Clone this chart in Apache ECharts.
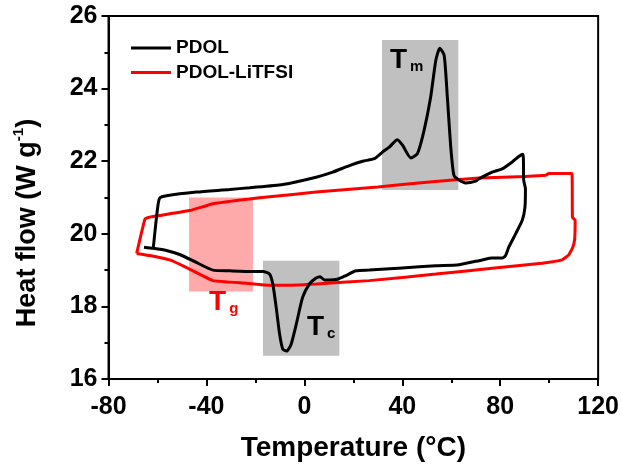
<!DOCTYPE html>
<html>
<head>
<meta charset="utf-8">
<script src="https://cdn.jsdelivr.net/npm/echarts@6/dist/echarts.min.js"></script>
<style>
html,body{margin:0;padding:0;background:#fff;}
#chart{width:622px;height:472px;}
</style>
</head>
<body>
<div id="chart"></div>
<script>
// PDOL: heating (upper) then cooling (lower) trace, in drawing order
var pdolTemp = [-61.7,-60.7,-59.7,-59.0,-56.3,-44.1,-30.5,-22.4,-8.8,4.8,11.6,18.4,23.8,28.6,31.9,34.7,38.0,40.1,43.5,46.2,48.9,51.6,53.7,55.3,57.1,58.4,59.8,61.1,63.2,65.9,70.0,71.4,76.7,80.8,84.9,87.6,89.3,89.6,90.3,90.1,89.0,86.3,83.5,82.2,80.8,76.7,72.7,63.2,53.7,40.0,26.5,21.1,17.0,13.6,10.2,8.2,6.4,4.8,2.1,-0.7,-3.3,-5.4,-7.2,-8.8,-10.1,-11.5,-12.9,-14.2,-16.9,-21.0,-30.5,-37.3,-44.1,-50.9,-56.3,-61.7,-65.5];
var pdolHeat = [19.61,20.27,20.83,20.99,21.05,21.15,21.22,21.27,21.36,21.56,21.70,21.88,22.00,22.07,22.25,22.39,22.59,22.44,22.09,22.21,22.85,23.77,24.78,25.11,24.92,23.77,22.39,21.61,21.48,21.40,21.45,21.52,21.70,21.79,21.98,22.13,22.19,21.47,21.24,20.73,20.37,20.00,19.63,19.40,19.33,19.33,19.28,19.15,19.12,19.06,19.00,18.98,18.85,18.75,18.73,18.73,18.82,18.78,18.62,18.25,17.51,16.96,16.77,16.82,17.23,17.97,18.62,18.89,18.96,18.96,18.98,19.00,19.21,19.43,19.54,19.60,19.63];
// PDOL-LiTFSI
var liTemp = [-68.5,-65.1,-63.1,-55.0,-46.8,-37.3,-27.8,-22.4,-14.2,4.8,30.0,50.0,71.4,90.3,98.5,99.8,109.3,109.5,110.6,110.4,109.6,108.0,105.3,97.1,76.7,53.7,26.5,4.8,-8.8,-14.2,-23.7,-37.3,-48.1,-55.0,-63.1,-68.5];
var liHeat = [19.46,20.41,20.46,20.55,20.64,20.83,20.92,20.96,21.02,21.15,21.29,21.42,21.54,21.58,21.61,21.66,21.66,20.45,20.38,19.85,19.62,19.42,19.28,19.19,19.05,18.89,18.71,18.62,18.58,18.58,18.64,18.71,19.07,19.28,19.40,19.46];
// shaded transition regions [xStart, yTop, xEnd, yBottom]
var tmBox = [31.7, 25.34, 62.9, 21.21];
var tcBox = [-16.9, 19.26, 14.3, 16.64];
var tgBox = [-47.1, 21.0, -21.0, 18.41];
var seriesNames = ['PDOL', 'PDOL-LiTFSI'];

function pairs(xs, ys){ return xs.map(function(x,i){ return [x, ys[i]]; }); }

var FONT = 'Liberation Sans, Arial, sans-serif';
function subRich(color){
  return {
    t:{fontSize:28, fontWeight:'bold', fontFamily:FONT, color:color, lineHeight:28, verticalAlign:'top'},
    s:{fontSize:15, fontWeight:'bold', fontFamily:FONT, color:color, lineHeight:15, verticalAlign:'bottom', padding:[22,0,0,3]}
  };
}
function box(b, fill, label){
  return [{coord:[b[0], b[1]], itemStyle:{color:fill}, label:label}, {coord:[b[2], b[3]]}];
}

var chart = echarts.init(document.getElementById('chart'), null, {renderer:'canvas'});
var axisCommon = {
  type:'value',
  axisLine:{show:true, onZero:false, lineStyle:{color:'#000', width:2}},
  axisTick:{show:true, inside:false, length:7, lineStyle:{color:'#000', width:2}},
  minorTick:{show:true, splitNumber:2, length:4, lineStyle:{color:'#000', width:2}},
  splitLine:{show:false},
  axisLabel:{fontSize:25, fontWeight:'bold', color:'#000', fontFamily:FONT}
};
var option = {
  animation:false,
  backgroundColor:'#fff',
  grid:{left:108.5, right:23, top:16, bottom:93, show:true, borderColor:'#000', borderWidth:2, backgroundColor:'transparent'},
  legend:{
    data:seriesNames, orient:'vertical', left:131, top:38, padding:0,
    icon:'rect', itemWidth:40, itemHeight:3, itemGap:4.4,
    textStyle:{fontSize:19, fontWeight:'bold', color:'#000', fontFamily:FONT, lineHeight:20}
  },
  xAxis: Object.assign({}, axisCommon, {
    min:-80, max:120, interval:40,
    axisLabel: Object.assign({}, axisCommon.axisLabel, {margin:16}),
    name:'Temperature (°C)', nameLocation:'middle', nameGap:55,
    nameTextStyle:{fontSize:28, fontWeight:'bold', color:'#000', fontFamily:FONT}
  }),
  yAxis: Object.assign({}, axisCommon, {
    min:16, max:26, interval:2,
    axisLabel: Object.assign({}, axisCommon.axisLabel, {margin:11})
  }),
  graphic:[{
    type:'text', x:26, y:223, rotation:Math.PI/2,
    style:{
      text:'{m|Heat flow (W g}{sup|-1}{m|)}',
      textAlign:'center', textVerticalAlign:'middle',
      rich:{
        m:{fontSize:27, fontWeight:'bold', fontFamily:FONT, fill:'#000', lineHeight:30, verticalAlign:'bottom'},
        sup:{fontSize:15, fontWeight:'bold', fontFamily:FONT, fill:'#000', lineHeight:15, verticalAlign:'top'}
      }
    }
  }],
  series:[
    {
      name:seriesNames[0], type:'line', data:pairs(pdolTemp, pdolHeat),
      symbol:'none', smooth:0.2, z:3,
      lineStyle:{color:'#000', width:3}, itemStyle:{color:'#000'},
      markArea:{
        silent:true, z:1,
        data:[
          box(tmBox, '#c0c0c0', {show:true, position:[8,6], formatter:'{t|T}{s|m}', rich:subRich('#000')}),
          box(tcBox, '#c0c0c0', {show:true, position:[44,53], formatter:'{t|T}{s|c}', rich:subRich('#000')}),
          box(tgBox, '#ffaaaa', {show:true, position:[20,91], formatter:'{t|T}{s|g}', rich:subRich('#ff0000')})
        ]
      }
    },
    {
      name:seriesNames[1], type:'line', data:pairs(liTemp, liHeat),
      symbol:'none', smooth:0.1, z:2,
      lineStyle:{color:'#ff0000', width:3}, itemStyle:{color:'#ff0000'}
    }
  ]
};
chart.setOption(option);
</script>
</body>
</html>
